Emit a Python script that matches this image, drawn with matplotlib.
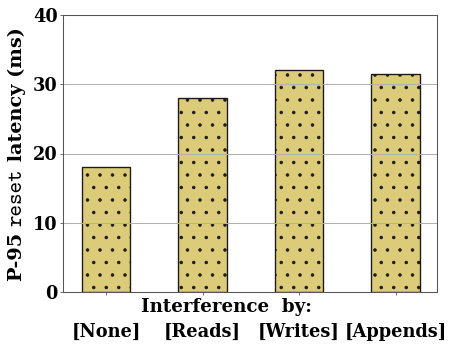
import matplotlib
matplotlib.use("Agg")
import matplotlib.pyplot as plt

categories = ["[None]", "[Reads]", "[Writes]", "[Appends]"]
latency_p95 = [18, 28, 32, 31.5]
yticks = [0, 10, 20, 30, 40]

plt.rcParams["font.family"] = "DejaVu Serif"
plt.rcParams["font.weight"] = "bold"
plt.rcParams["axes.unicode_minus"] = False
plt.rcParams["hatch.linewidth"] = 0.9
plt.rcParams["hatch.color"] = "#2a2a2a"

DPI = 75
fig = plt.figure(figsize=(457 / DPI, 351 / DPI), dpi=DPI)
ax = fig.add_axes([63 / 457, 1 - 292 / 351, 374 / 457, 277 / 351])

x = range(len(categories))
ax.bar(x, latency_p95, width=0.5, color="#dccb78", edgecolor="#1a1a1a",
       linewidth=1.3, hatch=".", zorder=2)

ax.set_xlim(-0.446, 3.43)
ax.set_ylim(0, 40)
ax.set_yticks(yticks)
ax.set_xticks(list(x))
ax.set_xticklabels(categories)
ax.set_axisbelow(False)
ax.yaxis.grid(True, color="#b0b0b0", linewidth=1.0, zorder=3)

ax.tick_params(axis="y", labelsize=17, length=3, pad=2, color="#555555")
ax.tick_params(axis="x", labelsize=17, length=3, pad=27, color="#555555")
for s in ax.spines.values():
    s.set_color("#555555")
    s.set_linewidth(1.0)
    s.set_zorder(4)

fig.text(226 / 457, 1 - 307 / 351, "Interference  by:", fontsize=17.5,
         ha="center", va="center")

# y label: bold serif with a typewriter "reset" in the middle
parts = [("P-95 ", dict(family="DejaVu Serif", weight="bold", fontsize=18.5)),
         ("reset", dict(family="cmtt10", weight="normal", fontsize=21)),
         (" latency (ms)", dict(family="DejaVu Serif", weight="bold", fontsize=18.5))]
ylab_x = 17 / 457
texts = []
for s, kw in parts:
    t = fig.text(ylab_x, 0, s.replace(" ", "\u00a0"), rotation=90,
                 rotation_mode="anchor", ha="left", va="center", **kw)
    texts.append(t)
fig.canvas.draw()
r = fig.canvas.get_renderer()
lengths = [t.get_window_extent(r).height for t in texts]
total = sum(lengths)
fig_h = fig.bbox.height
centre = (1 - 154 / 351) * fig_h
pos = centre - total / 2
for t, L in zip(texts, lengths):
    t.set_y(pos / fig_h)
    pos += L

fig.savefig("out.png", dpi=DPI)
